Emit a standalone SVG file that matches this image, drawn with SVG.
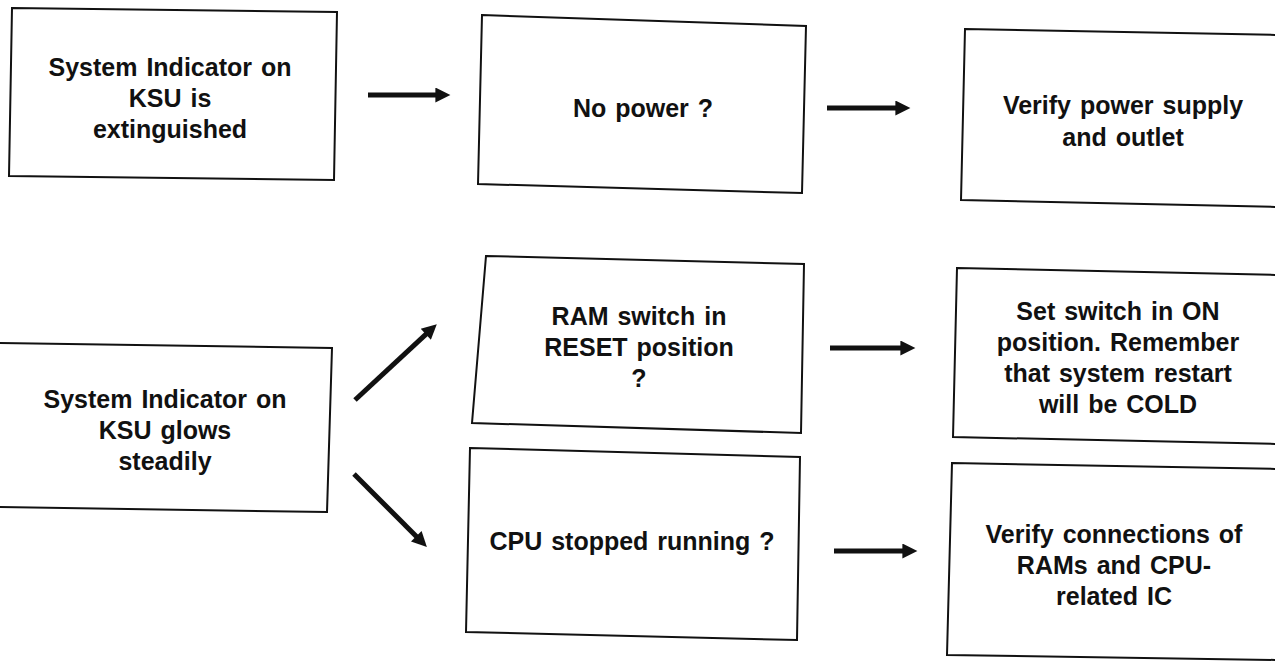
<svg xmlns="http://www.w3.org/2000/svg" width="1275" height="663" viewBox="0 0 1275 663">
<style>
.box{fill:#fff;stroke:#111;stroke-width:2}
.t{font-family:"Liberation Sans",Arial,sans-serif;font-weight:bold;font-size:25px;word-spacing:2px;fill:#111;text-anchor:middle}
.arr{stroke:#111;stroke-width:5;fill:none;marker-end:url(#ah)}
</style>
<defs>
<marker id="ah" viewBox="0 0 10 10" refX="2" refY="5" markerWidth="3.4" markerHeight="3" orient="auto" markerUnits="strokeWidth">
<path d="M0,0 L10,5 L0,10 z" fill="#111"/>
</marker>
</defs>
<rect width="1275" height="663" fill="#fff"/>
<g id="n1">
<polygon class="box" points="12,8 337,12 334,180 9,176"/>
<text class="t" x="170" y="76">System Indicator on</text>
<text class="t" x="170" y="107">KSU is</text>
<text class="t" x="170" y="138">extinguished</text>
</g>
<g id="n2">
<polygon class="box" points="482,15 806,26 802,193 478,184"/>
<text class="t" x="643" y="117">No power ?</text>
</g>
<g id="n3">
<polygon class="box" points="965,29 1280,35 1280,207 961,200"/>
<text class="t" x="1123" y="114">Verify power supply</text>
<text class="t" x="1123" y="146">and outlet</text>
</g>
<g id="n4">
<polygon class="box" points="-3,343 332,348 327,512 -3,507"/>
<text class="t" x="165" y="408">System Indicator on</text>
<text class="t" x="165" y="439">KSU glows</text>
<text class="t" x="165" y="470">steadily</text>
</g>
<g id="n5">
<polygon class="box" points="486,256 804,264 801,433 472,423"/>
<text class="t" x="639" y="325">RAM switch in</text>
<text class="t" x="639" y="356">RESET position</text>
<text class="t" x="639" y="387">?</text>
</g>
<g id="n6">
<polygon class="box" points="957,268 1280,275 1280,444 953,437"/>
<text class="t" x="1118" y="320">Set switch in ON</text>
<text class="t" x="1118" y="351">position. Remember</text>
<text class="t" x="1118" y="382">that system restart</text>
<text class="t" x="1118" y="413">will be COLD</text>
</g>
<g id="n7">
<polygon class="box" points="470,448 800,457 797,640 466,632"/>
<text class="t" x="632" y="550">CPU stopped running ?</text>
</g>
<g id="n8">
<polygon class="box" points="952,463 1280,469 1280,660 947,655"/>
<text class="t" x="1114" y="543">Verify connections of</text>
<text class="t" x="1114" y="574">RAMs and CPU-</text>
<text class="t" x="1114" y="605">related IC</text>
</g>
<g id="connectors">
<line class="arr" x1="368" y1="95" x2="438.4" y2="95"/>
<line class="arr" x1="827" y1="108" x2="898.4" y2="108"/>
<line class="arr" x1="355" y1="400" x2="428" y2="332.3"/>
<line class="arr" x1="354" y1="474" x2="418.4" y2="538.4"/>
<line class="arr" x1="830" y1="348" x2="903.4" y2="348"/>
<line class="arr" x1="834" y1="551" x2="905.4" y2="551"/>
</g>
</svg>
